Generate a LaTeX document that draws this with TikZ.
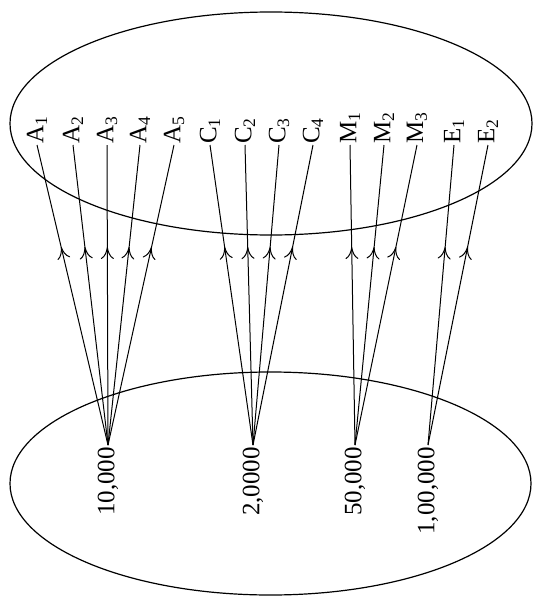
\documentclass[tikz,border=0pt]{standalone}
\usepackage{fontspec}
\setmainfont{Liberation Serif}
\usetikzlibrary{arrows.meta,decorations.markings}
\begin{document}
\begin{tikzpicture}[x=1pt,y=-1pt,
  lbl/.style={rotate=90,anchor=west,inner sep=1pt,font=\fontsize{25}{30}\selectfont},
  src/.style={rotate=90,anchor=east,inner sep=2pt,font=\fontsize{25}{30}\selectfont},
  setbox/.style={draw,line width=1.2pt},
  link/.style={line width=1pt,postaction={decorate},
    decoration={markings,mark=at position 0.66 with {\arrow{To[length=12pt,width=13pt,line width=1pt]}}}}]
\useasboundingbox (0,0) rectangle (534,613);
\draw[setbox] (271,123.5) ellipse [x radius=261, y radius=111.5];
\draw[setbox] (270.5,483.5) ellipse [x radius=260.5, y radius=111.5];
% top labels
\node[lbl] (a1) at (37,145) {A\textsubscript{1}};
\node[lbl] (a2) at (73,145) {A\textsubscript{2}};
\node[lbl] (a3) at (107,145) {A\textsubscript{3}};
\node[lbl] (a4) at (140,145) {A\textsubscript{4}};
\node[lbl] (a5) at (174,145) {A\textsubscript{5}};
\node[lbl] (c1) at (210,145) {C\textsubscript{1}};
\node[lbl] (c2) at (245,145) {C\textsubscript{2}};
\node[lbl] (c3) at (279,145) {C\textsubscript{3}};
\node[lbl] (c4) at (313,145) {C\textsubscript{4}};
\node[lbl] (m1) at (350,145) {M\textsubscript{1}};
\node[lbl] (m2) at (384,145) {M\textsubscript{2}};
\node[lbl] (m3) at (417,145) {M\textsubscript{3}};
\node[lbl] (e1) at (454,145) {E\textsubscript{1}};
\node[lbl] (e2) at (488,145) {E\textsubscript{2}};
% sources
\node[src] (s1) at (108,445) {10,000};
\node[src] (s2) at (253,445) {2,0000};
\node[src] (s3) at (355,445) {50,000};
\node[src] (s4) at (428,445) {1,00,000};
% links
\foreach \n in {a1,a2,a3,a4,a5} \draw[link] (s1.east) -- (\n.west);
\foreach \n in {c1,c2,c3,c4} \draw[link] (s2.east) -- (\n.west);
\foreach \n in {m1,m2,m3} \draw[link] (s3.east) -- (\n.west);
\foreach \n in {e1,e2} \draw[link] (s4.east) -- (\n.west);
\end{tikzpicture}
\end{document}
